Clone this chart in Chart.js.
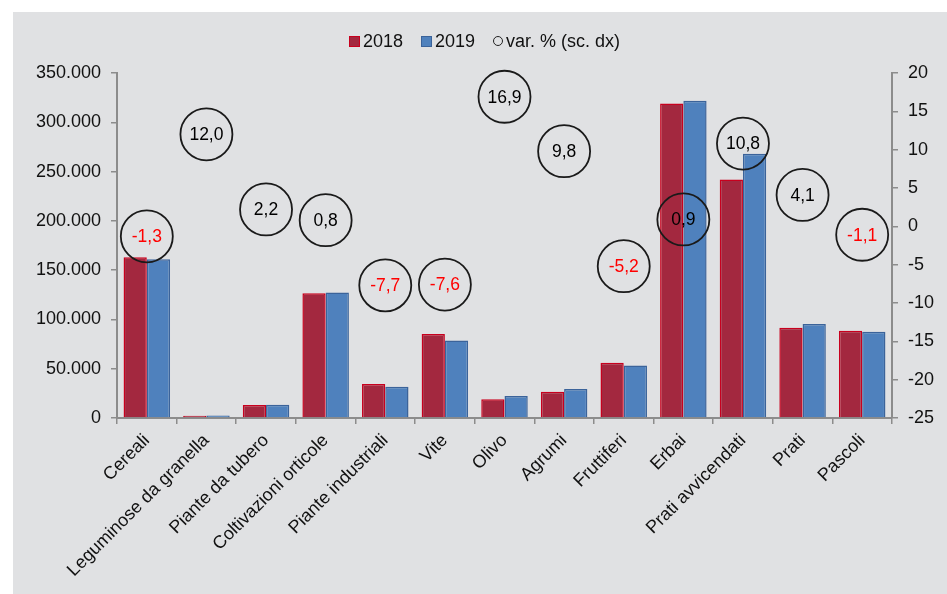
<!DOCTYPE html>
<html>
<head>
<meta charset="utf-8">
<script src="https://cdn.jsdelivr.net/npm/chart.js@4/dist/chart.umd.min.js"></script>
<style>
  body { margin: 0; background: #ffffff; font-family: "Liberation Sans", Arial, sans-serif; }
  #panel { position: absolute; left: 13px; top: 12px; width: 934px; height: 582px; background: #e0e1e3; }
  #legend { position: absolute; left: 336px; top: 20px; display: flex; align-items: center; font-size: 18px; color: #111; line-height: 18px; }
  #legend .box { width: 9px; height: 9px; margin-right: 3px; }
  #legend .txt { margin-right: 18px; }
  #legend .dot { width: 8px; height: 8px; border: 1.5px solid #222; border-radius: 50%; margin-right: 3px; }
</style>
</head>
<body>
<div id="panel">
  <canvas id="chart" width="934" height="582"></canvas>
  <div id="legend">
    <span class="box" style="background:#a3283f;border:1px solid #c8001e"></span><span class="txt">2018</span>
    <span class="box" style="background:#4f81bd;border:1px solid #3b639a"></span><span class="txt">2019</span>
    <span class="dot"></span><span>var. % (sc. dx)</span>
  </div>
</div>
<script>
// categorie e valori (ettari)
const categorie = ['Cereali', 'Leguminose da granella', 'Piante da tubero', 'Coltivazioni orticole',
  'Piante industriali', 'Vite', 'Olivo', 'Agrumi', 'Fruttiferi', 'Erbai', 'Prati avvicendati', 'Prati', 'Pascoli'];
const valori2018 = [163000, 2300, 13200, 126500, 34500, 85200, 19000, 26700, 56100, 319000, 242000, 91600, 88600];
const valori2019 = [161000, 2600, 13500, 127200, 31800, 78700, 22200, 29300, 53200, 321900, 268100, 95400, 87600];
const variazione = [-1.3, 12.0, 2.2, 0.8, -7.7, -7.6, 16.9, 9.8, -5.2, 0.9, 10.8, 4.1, -1.1];

const FONT = '"Liberation Sans", Arial, sans-serif';

function migliaia(v) {
  return String(v).replace(/\B(?=(\d{3})+(?!\d))/g, '.');
}

// scrive il valore dentro ogni cerchio
const etichetteCerchi = {
  id: 'etichetteCerchi',
  afterDatasetsDraw(chart) {
    const meta = chart.getDatasetMeta(2);
    const ctx = chart.ctx;
    ctx.save();
    ctx.font = '17.5px ' + FONT;
    ctx.textAlign = 'center';
    ctx.textBaseline = 'middle';
    meta.data.forEach((pt, i) => {
      const v = variazione[i];
      ctx.fillStyle = v < 0 ? '#ff0000' : '#000000';
      ctx.fillText(v.toFixed(1).replace('.', ','), pt.x, pt.y + 1);
    });
    ctx.restore();
  }
};

const ctx = document.getElementById('chart').getContext('2d');
new Chart(ctx, {
  type: 'bar',
  data: {
    labels: categorie,
    datasets: [
      { label: '2018', data: valori2018, backgroundColor: '#a3283f', borderColor: '#c8001e', borderWidth: 1.5, yAxisID: 'y', order: 1 },
      { label: '2019', data: valori2019, backgroundColor: '#4f81bd', borderColor: '#3b639a', borderWidth: 1.5, yAxisID: 'y', order: 1 },
      { type: 'line', label: 'var. % (sc. dx)', data: variazione, yAxisID: 'y1', showLine: false, order: 0,
        pointStyle: 'circle', pointRadius: 26, pointBorderWidth: 1.8, pointBorderColor: '#1a1a1a',
        pointBackgroundColor: 'rgba(0,0,0,0)', clip: false }
    ]
  },
  options: {
    responsive: false,
    animation: false,
    events: [],
    layout: { padding: { top: 61, left: 0, right: 0, bottom: 0 } },
    datasets: { bar: { categoryPercentage: 0.78, barPercentage: 1 } },
    plugins: { legend: { display: false }, tooltip: { enabled: false } },
    scales: {
      x: {
        grid: { drawOnChartArea: false, drawTicks: true, tickLength: 6, color: '#8c8c8c', lineWidth: 1.5 },
        border: { display: true, color: '#8c8c8c', width: 2 },
        ticks: { autoSkip: false, maxRotation: 45, minRotation: 45, padding: 6, color: '#111', font: { family: FONT, size: 18 } },
        afterFit(scale) { scale.height = 176; }
      },
      y: {
        position: 'left', min: 0, max: 350000,
        grid: { drawOnChartArea: false, drawTicks: true, tickLength: 6, color: '#8c8c8c', lineWidth: 1.5 },
        border: { display: true, color: '#8c8c8c', width: 2 },
        ticks: { stepSize: 50000, padding: 10, color: '#111', font: { family: FONT, size: 18 }, callback: v => migliaia(v) },
        afterFit(scale) { scale.width = 104; }
      },
      y1: {
        position: 'right', min: -25, max: 20,
        grid: { drawOnChartArea: false, drawTicks: true, tickLength: 6, color: '#8c8c8c', lineWidth: 1.5 },
        border: { display: true, color: '#8c8c8c', width: 2 },
        ticks: { stepSize: 5, padding: 10, color: '#111', font: { family: FONT, size: 18 } },
        afterFit(scale) { scale.width = 55; }
      }
    }
  },
  plugins: [etichetteCerchi]
});
</script>
</body>
</html>
